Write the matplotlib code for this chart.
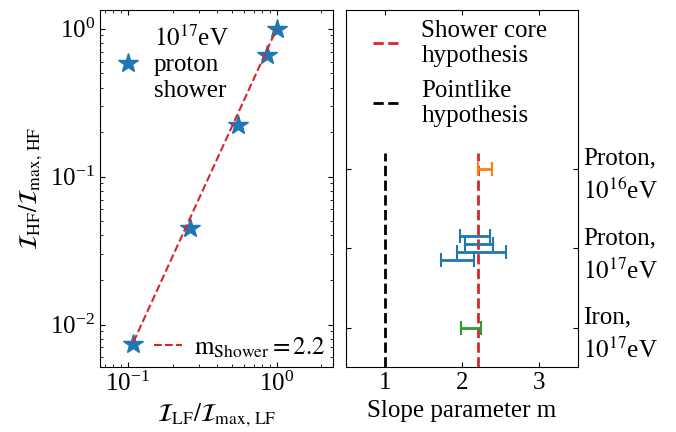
import matplotlib
matplotlib.use("Agg")
import matplotlib.pyplot as plt
import numpy as np

plt.rcParams['font.family'] = ['Liberation Serif', 'DejaVu Serif']
plt.rcParams['mathtext.fontset'] = 'stix'
plt.rcParams['font.size'] = 18

# normalised low / high frequency intensities, 1e17 eV proton shower
i_lf = [0.109, 0.262, 0.547, 0.857, 1.0]
i_hf = [0.0074, 0.0448, 0.222, 0.66, 1.0]
m_shower = 2.2

# fitted slope parameters (lower, upper) per simulation set
sets = ['Iron,\n$10^{17}$eV', 'Proton,\n$10^{17}$eV', 'Proton,\n$10^{16}$eV']
iron_17 = [(1.98, 2.24)]
proton_17 = [(1.97, 2.36), (2.04, 2.40), (1.94, 2.57), (1.73, 2.16)]
proton_16 = [(2.20, 2.39)]
m_pointlike = 1.0

fig = plt.figure(figsize=(6.76, 4.32), dpi=100)
ax1 = fig.add_axes([0.148, 0.150, 0.345, 0.826])
ax2 = fig.add_axes([0.512, 0.150, 0.343, 0.826])

# left: intensity ratio scatter with power-law fit
stars, = ax1.plot(i_lf, i_hf, '*', color='tab:blue', markersize=15,
                  label='$10^{17}$eV\nproton\nshower')
xfit = np.array([i_lf[0], i_lf[-1]])
fit, = ax1.plot(xfit, xfit ** m_shower, '--', color='tab:red', lw=1.5,
                label=r'$\mathrm{m_{Shower}} = %.1f$' % m_shower)
ax1.set_xscale('log')
ax1.set_yscale('log')
ax1.set_xlim(0.065, 2.4)
ax1.set_ylim(0.00515, 1.33)
ax1.set_xlabel(r'$\mathcal{I}_{\rm LF}/\mathcal{I}_{\rm max,\,LF}$')
ax1.set_ylabel(r'$\mathcal{I}_{\rm HF}/\mathcal{I}_{\rm max,\,HF}$')
ax1.tick_params(which='both', direction='in', top=True, right=True)
leg1 = ax1.legend(handles=[stars], loc='upper left', frameon=False,
                  handlelength=1.0, handletextpad=0.55, borderaxespad=0.2)
ax1.add_artist(leg1)
ax1.legend(handles=[fit], loc='lower right', frameon=False, borderpad=0.2,
           handlelength=1.1, handletextpad=0.5, borderaxespad=0.1)

# right: slope parameters compared with both hypotheses
ax2.axvline(m_shower, ymax=0.6, ls='--', color='tab:red', lw=2, label='Shower core\nhypothesis')
ax2.axvline(m_pointlike, ymax=0.6, ls='--', color='black', lw=2, label='Pointlike\nhypothesis')

groups = [(iron_17, 'tab:green'), (proton_17, 'tab:blue'), (proton_16, 'tab:orange')]
for k, (ranges, col) in enumerate(groups):
    n = len(ranges)
    offs = (np.arange(n) - (n - 1) / 2) * -0.1
    for (lo, hi), dy in zip(ranges, offs):
        ax2.errorbar((lo + hi) / 2, k + dy, xerr=(hi - lo) / 2, fmt='none',
                     ecolor=col, elinewidth=2, capsize=5, capthick=1.5)

ax2.set_xlim(0.5, 3.5)
ax2.set_ylim(-0.5, 4.0)
ax2.set_xticks([1, 2, 3])
ax2.set_yticks(range(len(sets)))
ax2.set_yticklabels(sets, ha='left', linespacing=1.45)
ax2.set_xlabel('Slope parameter m')
ax2.tick_params(direction='in', top=True, left=True, right=True,
                labelleft=False, labelright=True)
ax2.legend(loc='upper left', bbox_to_anchor=(0.05, 1.015), frameon=False,
           handlelength=1.1, handletextpad=0.85, borderaxespad=0.2)

fig.savefig('out.png', dpi=100)
